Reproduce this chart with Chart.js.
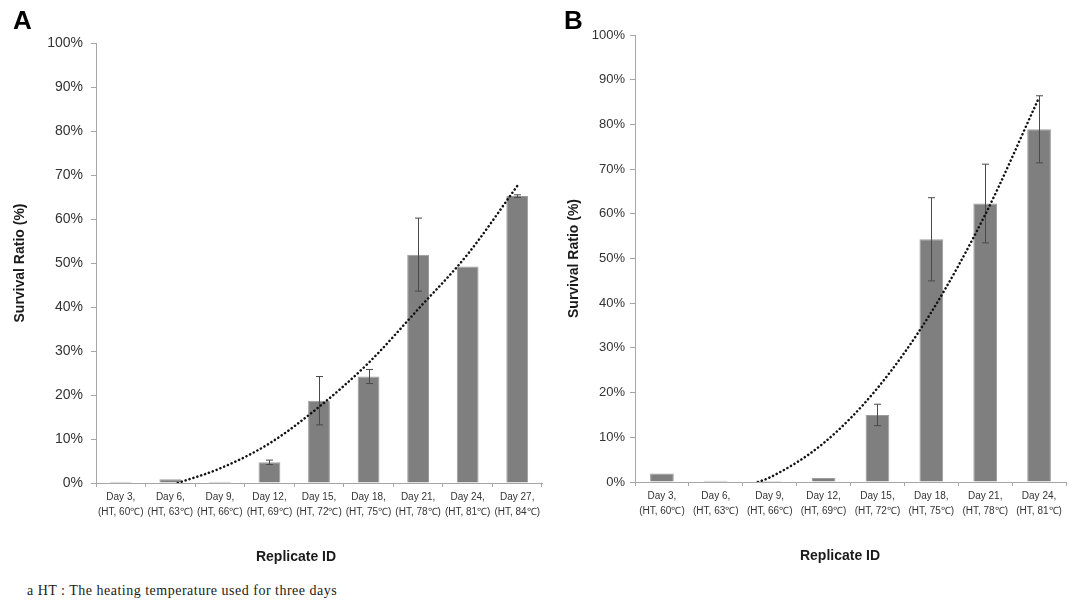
<!DOCTYPE html>
<html>
<head>
<meta charset="utf-8">
<script src="https://cdn.jsdelivr.net/npm/chart.js@4.4.1/dist/chart.umd.min.js"></script>
<style>
    body { margin: 0; background: #fff; width: 1077px; height: 603px; position: relative; overflow: hidden; }
    canvas { position: absolute; top: 0; }
    #chart-a { left: 0; }
    #chart-b { left: 550px; }
    .txt { position: absolute; font-family: "Liberation Sans", Arial, sans-serif; color: #1a1a1a; white-space: nowrap; }
    .panel { font-size: 26px; font-weight: bold; line-height: 26px; top: 7px; color: #000; }
    .xtitle { font-size: 14px; font-weight: bold; transform: translate(-50%, -50%); }
    .note { font-family: "Liberation Serif", "Times New Roman", serif; font-size: 14px; letter-spacing: 0.5px; left: 27px; top: 583px; line-height: 15px; }
</style>
</head>
<body>
<canvas id="chart-a" width="560" height="575"></canvas>
<canvas id="chart-b" width="527" height="575"></canvas>
<div class="txt panel" style="left:13px">A</div>
<div class="txt panel" style="left:564px">B</div>
<div class="txt xtitle" style="left:296px; top:556px">Replicate ID</div>
<div class="txt xtitle" style="left:840px; top:555px">Replicate ID</div>
<div class="txt note">a HT : The heating temperature used for three days</div>
<script>
// panel A
const labelsA = [
    ['Day 3,', '(HT, 60℃)'], ['Day 6,', '(HT, 63℃)'], ['Day 9,', '(HT, 66℃)'],
    ['Day 12,', '(HT, 69℃)'], ['Day 15,', '(HT, 72℃)'], ['Day 18,', '(HT, 75℃)'],
    ['Day 21,', '(HT, 78℃)'], ['Day 24,', '(HT, 81℃)'], ['Day 27,', '(HT, 84℃)']
];
const survivalA = [0.3, 0.85, 0.3, 4.7, 18.7, 24.2, 51.9, 49.2, 65.2];
const errorA = [0, 0, 0, 0.5, 5.5, 1.6, 8.3, 0, 0.3];
const trendAx = [2.15, 3, 4, 5, 6, 7, 8, 9];
const trendAy = [0, 3.3, 9.0, 17.3, 27.3, 39.5, 52, 67.5];

// panel B
const labelsB = [
    ['Day 3,', '(HT, 60℃)'], ['Day 6,', '(HT, 63℃)'], ['Day 9,', '(HT, 66℃)'],
    ['Day 12,', '(HT, 69℃)'], ['Day 15,', '(HT, 72℃)'], ['Day 18,', '(HT, 75℃)'],
    ['Day 21,', '(HT, 78℃)'], ['Day 24,', '(HT, 81℃)']
];
const survivalB = [1.9, 0.3, 0.2, 0.9, 15.0, 54.3, 62.3, 78.9];
const errorB = [0, 0, 0, 0, 2.4, 9.3, 8.8, 7.5];
const trendBx = [2.78, 3, 4, 5, 6, 7, 8];
const trendBy = [0, 1.0, 8.7, 21, 38, 59.8, 86];

const yTicks = [0, 10, 20, 30, 40, 50, 60, 70, 80, 90, 100];

const FONT = '"Liberation Sans", Arial, sans-serif';
const AXIS_GREY = '#a6a6a6';

const errorBars = {
    id: 'errorBars',
    afterDatasetDraw(chart, args, opts) {
        if (args.index !== 0) return;
        const y = chart.scales.y;
        const values = chart.data.datasets[0].data;
        const ctx = chart.ctx;
        ctx.save();
        ctx.strokeStyle = '#4a4a4a';
        ctx.lineWidth = 1;
        args.meta.data.forEach((bar, i) => {
            const e = opts.errors[i];
            if (!e) return;
            const x = Math.round(bar.x) + 0.5;
            const top = y.getPixelForValue(values[i] + e);
            const bot = y.getPixelForValue(values[i] - e);
            ctx.beginPath();
            ctx.moveTo(x, top); ctx.lineTo(x, bot);
            ctx.moveTo(x - 3.5, top); ctx.lineTo(x + 3.5, top);
            ctx.moveTo(x - 3.5, bot); ctx.lineTo(x + 3.5, bot);
            ctx.stroke();
        });
        ctx.restore();
    }
};

function makeChart(canvasId, labels, values, errors, tx, ty, box) {
    const trend = tx.map((x, i) => ({ x: x, y: ty[i] }));
    return new Chart(document.getElementById(canvasId), {
        plugins: [errorBars],
        data: {
            labels: labels,
            datasets: [{
                type: 'bar',
                data: values,
                backgroundColor: '#7f7f7f',
                borderColor: '#9c9c9c',
                borderWidth: 1,
                grouped: false,
                categoryPercentage: 1,
                barPercentage: 0.44,
                order: 2,
            }, {
                type: 'line',
                data: trend,
                xAxisID: 'xt',
                borderColor: '#111',
                borderWidth: 2.5,
                borderDash: [0.1, 4],
                borderCapStyle: 'round',
                pointRadius: 0,
                cubicInterpolationMode: 'monotone',
                order: 1,
            }]
        },
        options: {
            responsive: false,
            animation: false,
            devicePixelRatio: 1,
            layout: { padding: { left: 0, top: box.top, right: box.right, bottom: 0 } },
            plugins: {
                legend: { display: false },
                tooltip: { enabled: false },
                errorBars: { errors: errors },
            },
            scales: {
                x: {
                    type: 'category',
                    offset: true,
                    grid: { offset: true, drawOnChartArea: false, tickLength: 4, color: AXIS_GREY },
                    border: { color: AXIS_GREY },
                    ticks: {
                        maxRotation: 0, autoSkip: false, padding: 3, color: '#333',
                        font: { family: FONT, size: 10, lineHeight: 1.5 },
                    },
                    afterFit: (scale) => { scale.height = box.xh; },
                },
                xt: {
                    type: 'linear',
                    display: false,
                    min: 0.5,
                    max: labels.length + 0.5,
                },
                y: {
                    min: 0,
                    max: 100,
                    afterBuildTicks: (scale) => { scale.ticks = yTicks.map(v => ({ value: v })); },
                    grid: { drawOnChartArea: false, tickLength: 5, color: AXIS_GREY },
                    border: { color: AXIS_GREY },
                    ticks: {
                        padding: box.tickPad, color: '#333',
                        font: { family: FONT, size: box.tickSize },
                        callback: (v) => v + '%',
                    },
                    title: {
                        display: true,
                        text: 'Survival Ratio (%)',
                        color: '#1a1a1a',
                        font: { family: FONT, size: 14, weight: 'bold' },
                        padding: { top: box.titlePad, bottom: 0 },
                    },
                    afterFit: (scale) => { scale.width = box.yw; },
                }
            }
        }
    });
}

makeChart('chart-a', labelsA, survivalA, errorA, trendAx, trendAy,
    { top: 43, right: 18, xh: 92, yw: 96, tickPad: 8, tickSize: 14, titlePad: 12 });
makeChart('chart-b', labelsB, survivalB, errorB, trendBx, trendBy,
    { top: 35, right: 11, xh: 93, yw: 85, tickPad: 5, tickSize: 13, titlePad: 15.5 });
</script>
</body>
</html>
